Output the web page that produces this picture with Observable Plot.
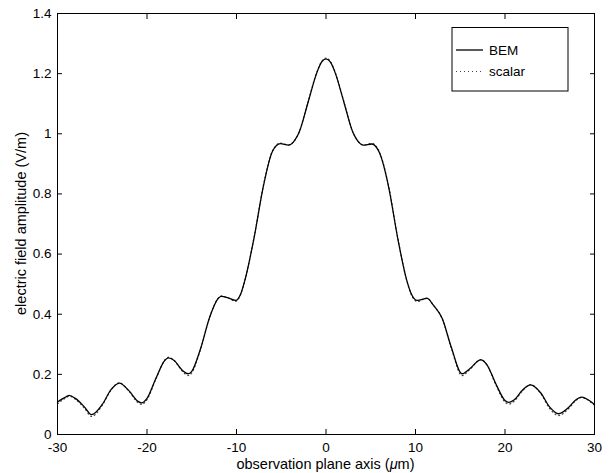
<!DOCTYPE html>
<html><head><meta charset="utf-8">
<script src="https://cdn.jsdelivr.net/npm/d3@7"></script>
<script src="https://cdn.jsdelivr.net/npm/@observablehq/plot@0.6"></script>
<style>body{margin:0;background:#fff} svg{display:block}</style>
</head><body><div id="chart"></div>
<script>
const xPos = [-30, -29, -28.7, -28, -27, -26.2, -25, -24, -23.1, -22, -21, -20.6, -20, -19, -18, -17.6, -17, -16, -15.4, -15, -14, -13, -12, -11.7, -11, -10.1, -9.5, -9, -8, -7, -6, -5.1, -4.2, -3.5, -3, -2, -1, -0.5, 0, 0.5, 1, 2, 3, 3.5, 4.2, 5.1, 6, 7, 8, 9, 9.5, 10.2, 11.3, 12, 13, 14, 15.2, 16, 17.3, 18, 19, 20, 20.4, 21, 22, 22.85, 24, 25, 26, 27, 28, 28.6, 29, 30];
const bemAmp = [0.108, 0.126, 0.130, 0.120, 0.092, 0.066, 0.100, 0.150, 0.171, 0.145, 0.110, 0.105, 0.120, 0.187, 0.247, 0.255, 0.247, 0.212, 0.202, 0.210, 0.287, 0.390, 0.454, 0.459, 0.455, 0.446, 0.470, 0.520, 0.660, 0.825, 0.940, 0.967, 0.962, 0.978, 1.005, 1.105, 1.205, 1.238, 1.249, 1.238, 1.205, 1.105, 1.005, 0.978, 0.962, 0.966, 0.935, 0.823, 0.655, 0.515, 0.470, 0.446, 0.453, 0.430, 0.385, 0.290, 0.202, 0.217, 0.248, 0.231, 0.167, 0.113, 0.107, 0.115, 0.149, 0.165, 0.138, 0.091, 0.069, 0.087, 0.117, 0.124, 0.120, 0.100];
const scalarAmp = [0.102, 0.123, 0.128, 0.117, 0.088, 0.060, 0.097, 0.149, 0.172, 0.143, 0.106, 0.100, 0.116, 0.185, 0.248, 0.257, 0.247, 0.209, 0.196, 0.205, 0.285, 0.390, 0.455, 0.461, 0.455, 0.443, 0.468, 0.520, 0.662, 0.828, 0.942, 0.969, 0.963, 0.978, 1.006, 1.107, 1.207, 1.240, 1.252, 1.240, 1.207, 1.107, 1.006, 0.978, 0.963, 0.968, 0.937, 0.826, 0.657, 0.515, 0.467, 0.442, 0.454, 0.430, 0.384, 0.287, 0.196, 0.214, 0.249, 0.231, 0.164, 0.108, 0.101, 0.110, 0.147, 0.166, 0.136, 0.086, 0.063, 0.083, 0.115, 0.124, 0.119, 0.097];
const xTicks = [-30, -20, -10, 0, 10, 20, 30];
const yTicks = [0, 0.2, 0.4, 0.6, 0.8, 1, 1.2, 1.4];
const seriesNames = ["BEM", "scalar"];
const xLabel = "observation plane axis (μm)";
const yLabel = "electric field amplitude (V/m)";

const bem = xPos.map((x, i) => ({x, y: bemAmp[i]}));
const scalar = xPos.map((x, i) => ({x, y: scalarAmp[i]}));
const font = "'Liberation Sans', Arial, Helvetica, sans-serif";
const W = 609, H = 473, mL = 57, mR = 15, mT = 13, mB = 39;

const svg = Plot.plot({
  width: W, height: H,
  marginLeft: mL, marginRight: mR, marginTop: mT, marginBottom: mB,
  style: {fontFamily: font, fontSize: "13.5px", color: "black", background: "white"},
  x: {domain: [-30, 30]},
  y: {domain: [0, 1.4]},
  marks: [
    Plot.line(scalar, {x: "x", y: "y", stroke: "#444", strokeWidth: 1.2, strokeDasharray: "1,3", curve: "monotone-x"}),
    Plot.line(bem, {x: "x", y: "y", stroke: "black", strokeWidth: 1.3, curve: "monotone-x"}),
    Plot.axisX({ticks: xTicks, tickSize: -5, tickPadding: 13, tickFormat: d => String(d), label: null}),
    Plot.axisX({anchor: "top", ticks: xTicks, tickSize: -5, tickFormat: () => "", label: null}),
    Plot.axisY({ticks: yTicks, tickSize: -5, tickPadding: 11, tickFormat: d => String(d), label: null}),
    Plot.axisY({anchor: "right", ticks: yTicks, tickSize: -5, tickFormat: () => "", label: null}),
    Plot.frame({stroke: "black", strokeWidth: 1})
  ]
});

const root = d3.select(svg);
const cx = mL + (W - mL - mR) / 2, cy = mT + (H - mT - mB) / 2;
// axis titles
root.append("text").attr("x", cx).attr("y", 468.5)
  .attr("text-anchor", "middle").attr("font-family", font).attr("font-size", 14.5).attr("fill", "black")
  .html('observation plane axis (<tspan font-style="italic">μ</tspan>m)');
root.append("text").attr("transform", `translate(26,${cy}) rotate(-90)`)
  .attr("text-anchor", "middle").attr("font-family", font).attr("font-size", 14.5).attr("fill", "black")
  .text(yLabel);

// legend
const lg = root.append("g").attr("font-family", font).attr("font-size", 13.5).attr("text-anchor", "start");
lg.append("rect").attr("x", 452).attr("y", 27.5).attr("width", 116).attr("height", 63.5)
  .attr("fill", "white").attr("stroke", "black");
const styles = [{stroke: "black", dash: null, w: 1.3}, {stroke: "#444", dash: "1,3", w: 1.2}];
seriesNames.forEach((name, i) => {
  const y = 50 + i * 21.5;
  lg.append("line").attr("x1", 456).attr("x2", 483).attr("y1", y).attr("y2", y)
    .attr("stroke", styles[i].stroke).attr("stroke-width", styles[i].w)
    .attr("stroke-dasharray", styles[i].dash);
  lg.append("text").attr("x", 489).attr("y", y).attr("dy", "0.35em").attr("fill", "black").text(name);
});

document.getElementById("chart").appendChild(svg);
</script>
</body></html>
